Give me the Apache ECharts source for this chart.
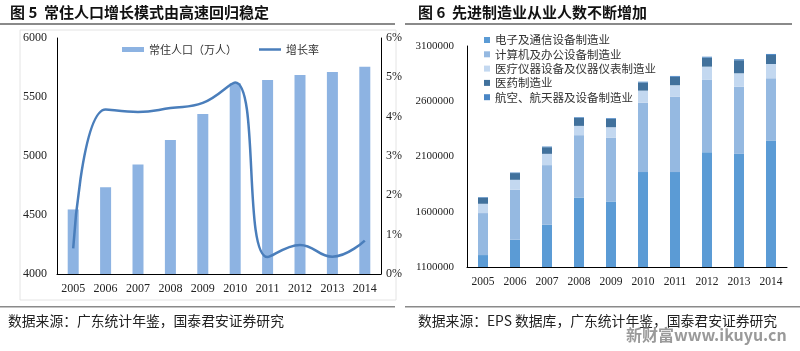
<!DOCTYPE html>
<html>
<head>
    <meta charset="UTF-8">
    <title>常住人口与先进制造业从业人数</title>
    <script src="https://cdn.jsdelivr.net/npm/echarts@6/dist/echarts.min.js"></script>
    <style>
        html, body { margin: 0; padding: 0; background: #fff; }
        #main { width: 800px; height: 351px; }
    </style>
</head>
<body>
<div id="main"></div>
<script type="text/javascript">
    // 图5 数据
    var years = ['2005', '2006', '2007', '2008', '2009', '2010', '2011', '2012', '2013', '2014'];
    var population = [4547, 4735, 4929, 5136, 5356, 5616, 5644, 5686, 5712, 5757];
    var growthRate = [0.65, 4.18, 4.12, 4.22, 4.35, 4.87, 0.43, 0.74, 0.44, 0.85];
    var leftTicks = [4000, 4500, 5000, 5500, 6000];

    // 图6 数据
    var industries = ['电子及通信设备制造业', '计算机及办公设备制造业', '医疗仪器设备及仪器仪表制造业', '医药制造业', '航空、航天器及设备制造业'];
    var electronics = [1208000, 1347000, 1482000, 1729000, 1693000, 1959000, 1959000, 2139000, 2124000, 2244000];
    var computer = [380000, 452000, 540000, 564000, 578000, 628000, 683000, 654000, 608000, 564000];
    var medical = [84000, 90000, 102000, 84000, 94000, 109000, 103000, 120000, 121000, 129000];
    var pharma = [56000, 61000, 60000, 73000, 75000, 74000, 76000, 82000, 118000, 82000];
    var aerospace = [5000, 5000, 6000, 6000, 7000, 7000, 8000, 8000, 9000, 9000];
    var rightBase = 1100000;

    var myChart = echarts.init(document.getElementById('main'));

    var serif = "'Liberation Serif', 'Times New Roman', serif";
    var cjk = "'Noto Sans CJK SC', sans-serif";
    var axisBlack = {show: true, lineStyle: {color: '#000', width: 1}};
    var colors6 = ['#5b9bd5', '#95b9e1', '#c3d8f0', '#41719c', '#4a86c5'];
    var legendText = {fontFamily: cjk, fontSize: 11, color: '#333'};

    var stackData = [electronics.map(function (v) { return v - rightBase; }), computer, medical, pharma, aerospace];
    var rightSeries = industries.map(function (name, i) {
        return {
            name: name,
            type: 'bar',
            stack: 'total',
            xAxisIndex: 1,
            yAxisIndex: 2,
            barWidth: 10,
            itemStyle: {color: colors6[i]},
            data: stackData[i]
        };
    });

    var option = {
        animation: false,
        backgroundColor: '#fff',
        graphic: [
            {type: 'rect', shape: {x: 20, y: 30, width: 376, height: 270}, style: {fill: 'none', stroke: '#e4e4e4', lineWidth: 1}},
            {type: 'text', left: 10, top: 5, style: {text: '图 5  常住人口增长模式由高速回归稳定', font: 'bold 15px ' + cjk, fill: '#111'}},
            {type: 'text', left: 418, top: 5, style: {text: '图 6  先进制造业从业人数不断增加', font: 'bold 15px ' + cjk, fill: '#111'}},
            {type: 'rect', shape: {x: 0, y: 23, width: 395, height: 2}, style: {fill: '#8a8a8a'}},
            {type: 'rect', shape: {x: 405, y: 23, width: 387, height: 2}, style: {fill: '#8a8a8a'}},
            {type: 'rect', shape: {x: 0, y: 306, width: 395, height: 1.5}, style: {fill: '#8a8a8a'}},
            {type: 'rect', shape: {x: 405, y: 306, width: 395, height: 1.5}, style: {fill: '#8a8a8a'}},
            {type: 'text', left: 8, top: 314, style: {text: '数据来源：广东统计年鉴，国泰君安证券研究', font: '13.8px ' + cjk, fill: '#222'}},
            {type: 'text', left: 418, top: 314, style: {text: '数据来源：EPS 数据库，广东统计年鉴，国泰君安证券研究', font: '13.8px ' + cjk, fill: '#222'}},
            {type: 'text', left: 626, top: 327, style: {text: '新财富www.ikuyu.cn', font: 'bold 16px ' + cjk, fill: '#9a9a9a'}}
        ],
        legend: [
            {
                left: 117, top: 39,
                itemWidth: 22, itemHeight: 5,
                icon: 'rect',
                textStyle: legendText,
                data: ['常住人口（万人）']
            },
            {
                left: 254, top: 39,
                itemWidth: 22, itemHeight: 2.5,
                icon: 'rect',
                textStyle: legendText,
                data: ['增长率']
            },
            {
                orient: 'vertical',
                left: 479, top: 29,
                itemGap: 2.3, itemWidth: 6, itemHeight: 6,
                icon: 'rect',
                textStyle: {fontFamily: cjk, fontSize: 11.5, lineHeight: 12, color: '#333'},
                data: industries
            }
        ],
        grid: [
            {left: 57, top: 38, width: 324, height: 236},
            {left: 467, top: 46, width: 320, height: 221}
        ],
        xAxis: [
            {
                type: 'category', gridIndex: 0, data: years,
                axisLine: axisBlack, axisTick: {show: false},
                axisLabel: {margin: 9, fontFamily: serif, fontSize: 12, color: '#222'}
            },
            {
                type: 'category', gridIndex: 1, data: years,
                axisLine: axisBlack, axisTick: {show: false},
                axisLabel: {margin: 9, fontFamily: serif, fontSize: 11.5, color: '#222'}
            }
        ],
        yAxis: [
            {
                type: 'value', gridIndex: 0,
                min: leftTicks[0], max: leftTicks[leftTicks.length - 1], interval: 500,
                axisLine: axisBlack, axisTick: {show: false}, splitLine: {show: false},
                axisLabel: {margin: 10, fontFamily: serif, fontSize: 12, color: '#222',
                    formatter: function (v) { return String(v); }}
            },
            {
                type: 'value', gridIndex: 0, position: 'right',
                min: 0, max: 6, interval: 1,
                axisLine: axisBlack, axisTick: {show: false}, splitLine: {show: false},
                axisLabel: {margin: 5, fontFamily: serif, fontSize: 12, color: '#222',
                    formatter: function (v) { return v + '%'; }}
            },
            {
                type: 'value', gridIndex: 1,
                min: 0, max: 2000000, interval: 500000,
                axisLine: axisBlack, axisTick: {show: false}, splitLine: {show: false},
                axisLabel: {margin: 13, fontFamily: serif, fontSize: 11, color: '#222',
                    formatter: function (v) { return String(v + rightBase); }}
            }
        ],
        series: [
            {
                name: '常住人口（万人）',
                type: 'bar',
                xAxisIndex: 0, yAxisIndex: 0,
                barWidth: 11,
                itemStyle: {color: '#8db3e2'},
                data: population
            },
            {
                name: '增长率',
                type: 'line',
                xAxisIndex: 0, yAxisIndex: 1,
                smooth: 0.45,
                symbol: 'none',
                lineStyle: {color: '#4a7ebb', width: 2.5},
                itemStyle: {color: '#4a7ebb'},
                data: growthRate
            }
        ].concat(rightSeries)
    };

    myChart.setOption(option);
</script>
</body>
</html>
